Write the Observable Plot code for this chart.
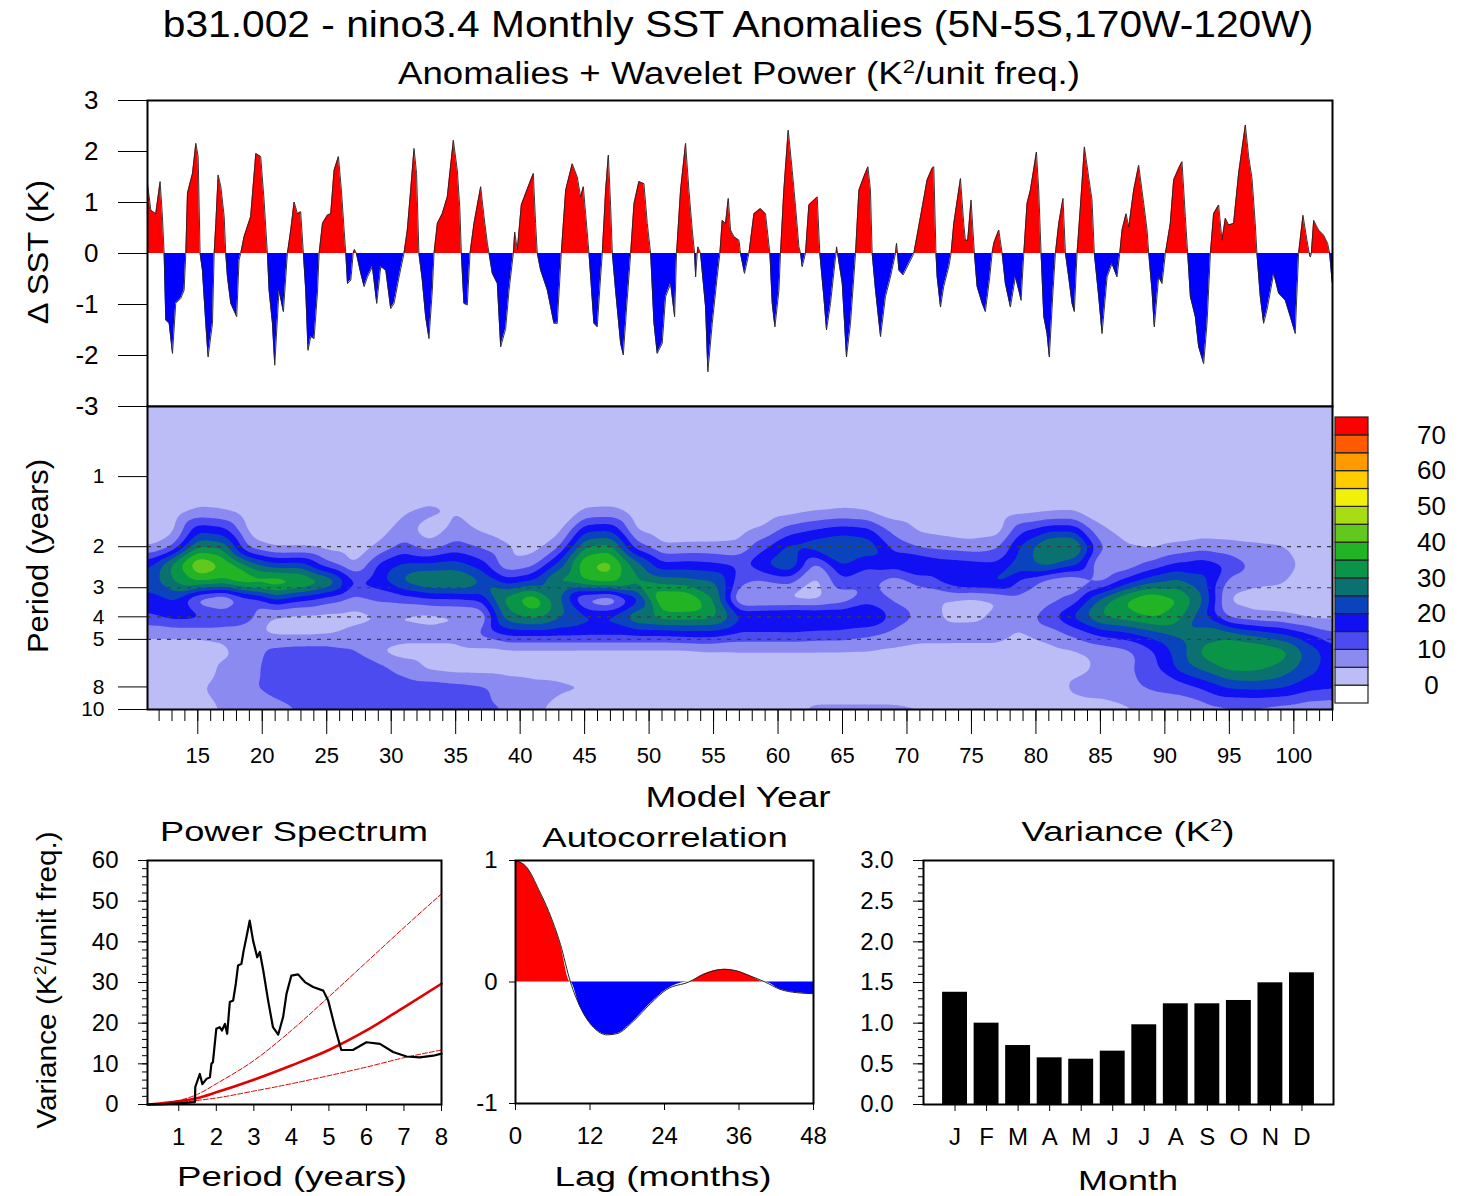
<!DOCTYPE html>
<html><head><meta charset="utf-8">
<script src="https://cdn.jsdelivr.net/npm/d3@7"></script>
<script src="https://cdn.jsdelivr.net/npm/@observablehq/plot@0.6"></script>
<style>
html,body{margin:0;padding:0;background:#fff;}
#root{position:relative;width:1467px;height:1196px;overflow:hidden;font-family:"Liberation Sans",Arial,Helvetica,sans-serif;color:#000;}
.lab{position:absolute;white-space:nowrap;line-height:1;}
.lab .sup{font-size:60%;position:relative;top:-0.6em;}
</style></head><body><div id="root"></div>
<script>
// ---------------- DATA ----------------
// Nino3.4 monthly SST anomaly (K) at turning points
const sstYear = [11.1,11.36,11.74,12.08,12.26,12.39,12.52,12.78,13.04,13.29,13.68,13.94,14.07,14.2,14.59,14.85,15.03,15.18,15.36,15.62,15.8,16.14,16.27,16.4,16.58,16.79,17.05,17.17,17.3,17.56,18.02,18.2,18.33,18.59,19.1,19.5,19.88,20.14,20.4,20.53,20.79,20.97,21.3,21.64,21.95,22.21,22.47,22.73,22.98,23.19,23.37,23.55,23.76,24.02,24.28,24.41,24.67,25.05,25.31,25.57,25.91,26.14,26.35,26.48,26.61,26.87,27.05,27.15,27.3,27.64,27.9,28.16,28.54,28.88,29.19,29.58,29.96,30.22,30.61,30.99,31.25,31.51,31.77,31.97,32.15,32.41,32.67,32.93,33.19,33.32,33.58,33.96,34.35,34.82,35.13,35.33,35.44,35.64,35.9,36.11,36.42,36.94,37.2,37.46,37.59,37.84,38.23,38.49,38.88,39.14,39.47,39.58,39.78,40.09,40.43,41.02,41.2,41.33,41.59,42.11,42.62,42.88,43.19,43.53,44.04,44.43,44.69,44.9,45.08,45.34,45.47,45.72,45.98,46.24,46.37,46.63,46.84,47.02,47.15,47.4,47.79,48.0,48.26,48.57,48.83,49.21,49.6,49.86,50.12,50.38,50.63,51.02,51.28,51.67,51.98,52.13,52.44,52.83,53.09,53.35,53.53,53.61,53.73,53.79,53.99,54.38,54.56,54.9,55.28,55.49,55.67,55.93,56.14,56.32,56.58,56.97,57.09,57.4,57.74,58.13,58.64,59.03,59.37,59.55,59.76,60.07,60.19,60.45,60.79,61.1,61.36,61.62,61.75,61.87,62.13,62.39,63.04,63.24,63.55,63.76,64.07,64.46,64.5,64.54,64.62,64.98,65.31,65.62,66.01,66.27,66.65,66.97,67.17,67.3,67.56,67.95,68.33,68.72,69.11,69.19,69.27,69.37,69.7,70.14,70.53,71.05,71.56,71.95,72.08,72.25,72.34,72.6,72.85,73.24,73.42,73.63,74.15,74.4,74.53,74.71,74.97,75.23,75.44,75.83,76.08,76.42,76.6,76.73,77.12,77.38,77.63,78.02,78.41,78.67,78.85,79.06,79.31,79.57,80.04,80.22,80.4,80.61,80.86,81.04,81.33,81.51,81.77,82.1,82.29,82.54,82.8,82.98,83.19,83.45,83.76,84.09,84.35,84.53,84.87,85.13,85.52,85.9,86.29,86.5,86.68,86.99,87.2,87.58,87.97,88.36,88.62,88.75,89.0,89.18,89.52,89.78,90.04,90.42,90.68,91.07,91.33,91.59,91.77,91.98,92.36,92.62,93.01,93.27,93.53,93.78,94.17,94.43,94.69,94.95,95.33,95.72,96.24,96.5,96.76,97.01,97.14,97.4,97.66,97.92,98.44,98.82,99.34,99.73,100.11,100.37,100.71,101.02,101.2,101.28,101.36,101.54,101.92,102.31,102.62,102.78,102.96,103.0];
const sstAnom = [1.37,0.85,0.78,1.41,0.72,0,-1.31,-1.37,-1.96,-0.98,-0.88,-0.72,0,1.18,1.57,2.16,1.9,0,-0.33,-1.37,-2.03,-1.37,0,0.59,1.54,1.31,0.72,0,-0.46,-0.98,-1.24,-0.13,0,0.33,0.72,1.96,1.9,1.05,0,-0.72,-1.37,-2.19,-0.72,-1.14,0,0.46,1.01,0.78,0.82,0,-0.72,-1.9,-1.63,-1.67,-0.78,0,0.59,0.75,0.78,1.63,1.9,1.24,0.46,0,-0.59,-0.52,0,0.08,0,-0.39,-0.65,-0.46,-0.26,-0.98,-0.26,-0.33,-1.08,-0.98,-0.46,0,0.46,1.24,2.06,1.57,0,-0.52,-1.24,-1.67,-0.72,0,0.59,0.78,1.11,2.22,1.63,0.85,0,-0.98,-1.01,0,0.59,1.31,0.72,0.2,0,-0.39,-0.59,-1.83,-1.47,-0.72,0,0.42,0.07,0.95,1.18,1.57,0.59,0,-0.33,-0.72,-1.37,-1.37,0,1.24,1.76,1.5,1.11,1.31,0.78,0,-0.46,-1.37,-1.44,-0.46,0,1.24,1.93,0.92,0,-0.72,-1.76,-1.99,-1.05,0,0.98,1.41,1.37,0.59,0,-1.37,-1.96,-1.76,-0.85,-0.59,-1.24,0,1.24,2.16,1.24,0.46,0,-0.46,0,0.13,0,-1.05,-2.32,-1.37,-0.46,0,0.65,0.59,1.08,0.46,0.33,0.26,0,-0.39,0,0.78,0.88,0.78,0,-0.98,-1.44,-0.72,0,1.24,2.42,1.63,0.92,0.13,0,-0.26,0,0.95,1.11,0,-0.85,-1.5,-0.98,-0.07,0,0.13,0,-0.59,-2.03,-1.37,0,1.24,1.5,1.7,1.24,0,-0.72,-1.63,-0.85,-0.46,0,0.2,0,-0.33,-0.42,-0.2,0,0.72,1.44,1.67,1.7,0,-0.46,-1.05,-0.65,-0.26,0,0.59,1.47,0.59,0.26,0.26,1.05,0,-0.65,-0.98,-1.14,-0.46,0,0.2,0.46,0,-0.59,-1.05,-0.46,-0.72,-0.92,0,0.98,1.24,1.99,1.24,0,-1.24,-1.57,-2.03,-0.72,0,0.59,1.08,0,-0.46,-0.98,-1.14,0,0.92,2.09,1.5,1.05,0,-0.85,-1.57,-0.46,-0.2,-0.46,0,0.46,0.78,0.52,1.24,1.73,0.98,0.46,0,-0.72,-1.44,-0.46,-0.59,0,0.59,1.44,1.67,1.8,0.72,0,-0.85,-1.24,-1.83,-2.16,-1.37,0,0.78,0.95,0.26,0.69,0.56,0.59,1.57,2.52,1.9,1.47,0.59,0,-0.85,-1.37,-1.11,-0.39,-0.78,-0.92,-1.24,-1.57,0,0.75,0.26,0,-0.07,0,0.65,0.46,0.36,0.2,0,-0.52,-0.6];
const sstTicks = [-3,-2,-1,0,1,2,3];

// Wavelet power (K^2/unit freq.) sampled on model year x period
const waveYear = [11,13,15,17,19,21,23,25,27,29,31,33,35,37,39,41,43,45,47,49,51,53,55,57,59,61,63,65,67,69,71,73,75,77,79,81,83,85,87,89,91,93,95,97,99,101,103];
const wavePeriod = [0.5,1,1.19,1.41,1.68,2,2.38,2.83,3.36,4,4.76,5.66,6.73,8,10];
const wavePower = [
 [2,2,2,2,2,2,2,2,2,2,2,2,2,2,2,2,2,2,2,2,2,2,2,2,2,2,2,2,2,2,2,2,2,2,2,2,2,2,2,2,2,2,2,2,2,2,2],
 [2,2,2,2,2,2,2,2,2,2,2,2,2,2,2,2,2,2,2,2,2,2,2,2,2,2,2,2,2,2,2,2,2,2,2,2,2,2,2,2,2,2,2,2,2,2,2],
 [2,2,2,2,2,2,2,2,2,2,2,2,2,2,2,2,2,2,2,2,2,2,2,2,2,2,2,2,2,2,2,2,2,2,2,2,2,2,2,2,2,2,2,2,2,2,2],
 [2,2,6,5,2,2,2,2,2,2,4.5,7,5,2,2,2,2,5.5,6,2,2,2,2,2,2,3,4.5,5.5,4.5,2,2,2,2,2,3,4,4.5,2,2,2,2,2,2,2,2,2,2],
 [2,3,18,16,3,2,2,2,2,3,7,1,7,4,2,2,3,18,19,4,2,2,2,3,5.5,12,15,17,16,8,4,3,2,2,14,18,18,6,3,2,2,2,2,2,2,2,2],
 [4,9,30,28,8,4,4,3,3,5.5,12,7,12,9,5.5,3,9,30,32,12,5.5,6,6,6,14,22,24,26,24,13,9,8,7,9,22,32,33,11,5.5,4,6,8,7,6,5.5,3,2],
 [18,32,46,40,28,21,22,11,4,16,21,21,22,17,5.5,8,22,40,43,28,16,17,16,14,21,26,8,21,16,18,21,18,17,16,24,28,22,4,6,11,16,18,14,9,7,4,3],
 [22,30,36,34,40,41,38,32,16,18,27,32,32,26,17,21,33,36,38,32,28,27,26,12,9,11,3,14,11,6,12,17,21,22,12,5.5,4,8,17,24,27,22,8,6,5.5,3,2],
 [18,20,6,2,12,21,16,12,8,11,12,14,14,16,33,41,26,6,2,16,41,41,30,3,3,3,3,6,13,9,6,4.5,3,4.5,8,8,12,26,36,41,36,26,4,3,3,3,2],
 [14,17,17,15,12,4,3,3,3,4.5,4,3,4,4.5,28,32,26,22,22,31,33,33,32,21,22,23,22,21,21,14,9,4,4,6,7,14,22,31,33,36,32,21,8,6,5.5,4,4],
 [5.5,5.5,5.5,6,6,4,4,4.5,7,8,7,7,7,11,16,16,16,16,16,16,16,17,17,14,14,14,13,13,11,8,7,7,7,7,4.5,7,11,16,18,22,26,28,28,24,21,16,11],
 [3,3,3,4,7,12,13,13,11,4.5,3,3,3,3,3,3,3,3,3,3,3,3,4,4.5,4.5,4.5,4.5,4.5,4.5,4,3,3,3,3,2,3,4,6,8,14,22,32,37,36,33,24,17],
 [2,2,2,6,8,13,14,14,14,13,8,4,3,3,3,3,3,2,2,2,2,2,2,2,2,2,2,2,2,2,2,2,2,2,2,3,4,5.5,9,13,21,26,31,31,28,22,17],
 [2,2,4.5,7,9.5,12,14,14,14,14,13,13,12,11,8,6.5,6,5.5,3,2,2,2,2,2,2,2,2,2,2,2,2,2,2,2,2,2,6,7,9,11,12,16,21,22,21,17,16],
 [2,2,2,5.5,7,8,10,11,11,11,11,11,11,11,10,6,3,2,2,2,2,2,2,2,2,4,6,6,6,6,5.5,4,2,2,2,2,3,3,4,5.5,6,7,8,8,7,6,5.5]
];
const powerLevels = [0,5,10,15,20,25,30,35,40,45,50,55,60,65,70];
const powerColors = ["#ffffff","#bcbcf7","#8a8af0","#4b4bef","#1010f2","#0a44bd","#0a7070","#0a9448","#22b424","#62c81e","#aadc14","#f0f00a","#ffcc00","#ff9a00","#ff5a00","#ff0000"];
const colorbarLabels = [0,10,20,30,40,50,60,70];
const periodTicks = [1,2,3,4,5,8,10];
const periodGuides = [2,3,4,5];
const yearTicks = [15,20,25,30,35,40,45,50,55,60,65,70,75,80,85,90,95,100];

// Power spectrum
const psPeriod = [0.167,0.5,1.0,1.43,1.44,1.56,1.63,1.74,1.83,1.87,1.91,2.0,2.09,2.15,2.23,2.29,2.36,2.45,2.52,2.58,2.67,2.73,2.8,2.89,2.98,3.09,3.16,3.25,3.38,3.51,3.65,3.78,3.87,4.0,4.18,4.36,4.58,4.85,4.98,5.16,5.33,5.64,6.0,6.36,6.71,7.07,7.42,7.78,8.0];
const psPower = [0,0.05,0.3,0.6,4.3,7.5,5.0,6.3,6.7,10,10.4,18.6,19,18.2,19.8,17.4,25.2,25.6,29.7,34.2,34.6,37.9,41,45.2,40.3,36.2,37.5,33,25.6,19,17.2,21.5,27.2,31.7,32,30.1,28.9,28,25.6,19,13.4,13.4,15.3,14.9,12.9,11.8,11.6,12,12.5];
const rnPeriod = [0.167,1,1.5,2,3,4,5,6,7,8];
const rnPower = [0,0.8,1.6,3.0,6.1,9.6,13.4,18.2,23.9,29.7];
const rnUpper = [0,1.0,2.5,5.1,10.8,18.2,26.5,35,43.5,51.8];
const rnLower = [0,0.5,1.0,1.6,3.3,5.1,7.1,9.2,11.5,13.4];

// Autocorrelation
const acLag = [0,1.88,3.75,5.36,7.24,8.85,10.46,12.6,14.75,16.36,19.04,21.7,24.4,27.9,30.3,33.5,35.7,37.8,40.2,42.6,45.3,48];
const acR = [1.0,0.94,0.76,0.58,0.31,0,-0.21,-0.375,-0.435,-0.425,-0.32,-0.18,-0.06,0,0.063,0.104,0.09,0.05,0,-0.06,-0.088,-0.096];

// Monthly variance
const months = ["J","F","M","A","M","J","J","A","S","O","N","D"];
const monthVar = [1.38,1.0,0.725,0.574,0.557,0.656,0.98,1.238,1.238,1.279,1.496,1.619];

// ---------------- DRAWING ----------------
const FONT = '"Liberation Sans", Arial, Helvetica, sans-serif';
const root = document.getElementById("root");
const baseStyle = {fontFamily: FONT, background: "transparent", color: "black", overflow: "visible"};
function place(el, left, top) {
  el.style.position = "absolute"; el.style.left = left + "px"; el.style.top = top + "px";
  root.appendChild(el);
}
const fmt = d => String(d);

// Top: anomalies
const sst = sstYear.map((t, i) => ({t, v: sstAnom[i]}));
place(Plot.plot({
  width: 1467, height: 326, marginLeft: 147, marginRight: 135, marginTop: 10, marginBottom: 10,
  style: baseStyle,
  x: {domain: [11.1, 103], axis: null},
  y: {domain: [-3, 3]},
  marks: [
    Plot.areaY(sst, {x: "t", y1: 0, y2: d => Math.max(0, d.v), fill: "#ff0000"}),
    Plot.areaY(sst, {x: "t", y1: 0, y2: d => Math.min(0, d.v), fill: "#0000ff"}),
    Plot.lineY(sst, {x: "t", y: "v", stroke: "#222", strokeWidth: 0.9}),
    Plot.axisY(sstTicks, {tickFormat: fmt, tickSize: 29, tickPadding: 20, fontSize: 26, label: null}),
    Plot.frame({stroke: "black", strokeWidth: 2})
  ]
}), 0, 90);

// Wavelet power
const wave = [];
wavePeriod.forEach((p, j) => waveYear.forEach((yr, i) => wave.push({yr, p, v: wavePower[j][i]})));
place(Plot.plot({
  width: 1467, height: 418, marginLeft: 147, marginRight: 135, marginTop: 10, marginBottom: 105,
  style: baseStyle,
  x: {domain: [11.1, 103]},
  y: {type: "log", domain: [0.5, 10], reverse: true},
  color: {type: "threshold", domain: powerLevels, range: powerColors},
  marks: [
    Plot.frame({fill: powerColors[1]}),
    Plot.contour(wave, {x: "yr", y: "p", fill: "v", interpolate: "barycentric", thresholds: powerLevels.slice(1), blur: 2}),
    Plot.ruleY(periodGuides, {stroke: "#3c3c3c", strokeWidth: 1.2, strokeDasharray: "4,6"}),
    Plot.axisY(periodTicks, {tickFormat: () => "", tickSize: 29, label: null}),
    Plot.text(periodTicks, {frameAnchor: "left", y: d => d, text: fmt, dx: -43, textAnchor: "end", fontSize: 21}),
    Plot.axisX(yearTicks, {tickFormat: fmt, tickSize: 25, tickPadding: 13, fontSize: 22, label: null}),
    Plot.axisX(d3.range(12, 104), {tickFormat: () => "", tickSize: 12, label: null}),
    Plot.frame({stroke: "black", strokeWidth: 2})
  ]
}), 0, 396);

// Colorbar
const barLevels = [-5].concat(powerLevels);
place(Plot.plot({
  width: 132, height: 288, marginLeft: 1, marginRight: 98, marginTop: 1, marginBottom: 1,
  style: baseStyle,
  x: {domain: [0, 1], axis: null},
  y: {domain: [-5, 75], axis: null},
  color: {type: "threshold", domain: powerLevels, range: powerColors},
  marks: [
    Plot.rect(barLevels, {x1: 0, x2: 1, y1: d => d, y2: d => d + 5, fill: d => d + 2.5, stroke: "#222", strokeWidth: 1.2}),
    Plot.text(colorbarLabels, {x: 1, y: d => d, text: fmt, dx: 63, fontSize: 26, textAnchor: "middle"})
  ]
}), 1334, 416);

// Power spectrum
const ps = psPeriod.map((p, i) => ({p, v: psPower[i]}));
const rn = rnPeriod.map((p, i) => ({p, v: rnPower[i], hi: rnUpper[i], lo: rnLower[i]}));
place(Plot.plot({
  width: 470, height: 360, marginLeft: 147, marginRight: 29, marginTop: 60, marginBottom: 56,
  style: baseStyle,
  x: {domain: [0.167, 8]},
  y: {domain: [0, 60]},
  marks: [
    Plot.line(rn, {x: "p", y: "hi", stroke: "#e00000", strokeWidth: 1, strokeDasharray: "5,2", curve: "monotone-x"}),
    Plot.line(rn, {x: "p", y: "lo", stroke: "#e00000", strokeWidth: 1, strokeDasharray: "5,2", curve: "monotone-x"}),
    Plot.line(rn, {x: "p", y: "v", stroke: "#e00000", strokeWidth: 2.6, curve: "monotone-x"}),
    Plot.line(ps, {x: "p", y: "v", stroke: "black", strokeWidth: 2.2}),
    Plot.axisY(d3.range(0, 61, 10), {tickFormat: fmt, tickSize: 9, tickPadding: 20, fontSize: 24, label: null}),
    Plot.axisY(d3.range(0, 61, 2), {tickFormat: () => "", tickSize: 5, label: null}),
    Plot.axisX(d3.range(1, 9), {tickFormat: fmt, tickSize: 7, tickPadding: 16, fontSize: 24, label: null}),
    Plot.frame({stroke: "black", strokeWidth: 2})
  ]
}), 0, 800);

// Autocorrelation
const ac = acLag.map((l, i) => ({l, r: acR[i]}));
place(Plot.plot({
  width: 445, height: 360, marginLeft: 115, marginRight: 32, marginTop: 60, marginBottom: 57,
  style: baseStyle,
  x: {domain: [0, 48]},
  y: {domain: [-1, 1]},
  marks: [
    Plot.areaY(ac, {x: "l", y1: 0, y2: d => Math.max(0, d.r), fill: "#ff0000", curve: "monotone-x"}),
    Plot.areaY(ac, {x: "l", y1: 0, y2: d => Math.min(0, d.r), fill: "#0000ff", curve: "monotone-x"}),
    Plot.lineY(ac, {x: "l", y: "r", stroke: "#222", strokeWidth: 1, curve: "monotone-x"}),
    Plot.axisY([-1, 0, 1], {tickFormat: fmt, tickSize: 6, tickPadding: 12, fontSize: 24, label: null}),
    Plot.axisX([0, 12, 24, 36, 48], {tickFormat: fmt, tickSize: 7, tickPadding: 16, fontSize: 24, label: null}),
    Plot.frame({stroke: "black", strokeWidth: 2})
  ]
}), 400, 800);

// Variance by month
const mv = monthVar.map((v, i) => ({i: i + 1, v}));
place(Plot.plot({
  width: 533, height: 360, marginLeft: 103, marginRight: 20, marginTop: 60, marginBottom: 56,
  style: baseStyle,
  x: {domain: [0, 13]},
  y: {domain: [0, 3]},
  marks: [
    Plot.rect(mv, {x1: d => d.i - 0.395, x2: d => d.i + 0.395, y1: 0, y2: "v", fill: "black"}),
    Plot.axisY(d3.range(0, 3.01, 0.5), {tickFormat: d3.format(".1f"), tickSize: 10, tickPadding: 20, fontSize: 24, label: null}),
    Plot.axisY(d3.range(0, 3.01, 0.1), {tickFormat: () => "", tickSize: 5, label: null}),
    Plot.axisX(d3.range(1, 13), {tickFormat: i => months[i - 1], tickSize: 7, tickPadding: 16, fontSize: 24, label: null}),
    Plot.frame({stroke: "black", strokeWidth: 2})
  ]
}), 820, 800);

// Text labels
const K2 = 'K<span class="sup">2</span>';
const labels = [
  ["b31.002 - nino3.4 Monthly SST Anomalies (5N-5S,170W-120W)", 738, 25, 36, 1150, false],
  ["Anomalies + Wavelet Power (" + K2 + "/unit freq.)", 739, 73, 31, 682, false],
  ["&Delta; SST (K)", 38, 252, 29, 144, true],
  ["Period (years)", 38, 556, 29, 194, true],
  ["Model Year", 738, 797, 29, 185, false],
  ["Power Spectrum", 294, 832, 28, 268, false],
  ["Autocorrelation", 665, 838, 28, 245, false],
  ["Variance (" + K2 + ")", 1128, 832, 28, 213, false],
  ["Variance (" + K2 + "/unit freq.)", 47, 980, 28, 298, true],
  ["Period (years)", 292, 1177, 28, 230, false],
  ["Lag (months)", 663, 1177, 28, 217, false],
  ["Month", 1128, 1181, 28, 100, false]
];
for (const [html, x, y, size, w, rot] of labels) {
  const d = document.createElement("div");
  d.className = "lab"; d.innerHTML = html;
  d.style.fontSize = size + "px"; d.style.left = x + "px"; d.style.top = y + "px";
  root.appendChild(d);
  const s = w / d.offsetWidth;
  d.style.transform = "translate(-50%,-50%)" + (rot ? " rotate(-90deg)" : "") + " scaleX(" + s.toFixed(3) + ")";
}
</script></body></html>
